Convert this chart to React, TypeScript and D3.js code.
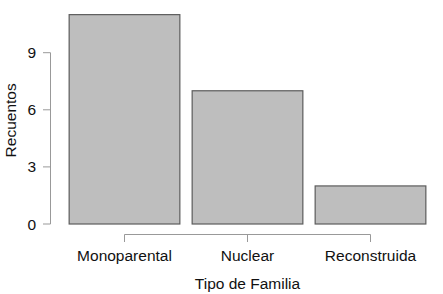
import React from "react";
import * as d3 from "d3";

const categories = ["Monoparental", "Nuclear", "Reconstruida"];
const counts = [11, 7, 2];
const yTicks = [0, 3, 6, 9];

export default function App() {
  const W = 443, H = 294;
  const x = d3.scaleBand<string>().domain(categories).range([63, 432]).paddingInner(0.1).paddingOuter(0.05);
  const y = d3.scaleLinear().domain([0, 9]).range([224, 52.7]);
  const font = "'Liberation Sans', Arial, sans-serif";
  const fs = 15.5;
  const c0 = x(categories[0])! + x.bandwidth() / 2;
  const c2 = x(categories[2])! + x.bandwidth() / 2;
  return (
    <svg width={W} height={H} style={{ position: "absolute", left: 0, top: 0 }} fontFamily={font}>
      <rect width={W} height={H} fill="#fff" />
      {categories.map((c, i) => (
        <rect key={c} x={x(c)!} y={y(counts[i])} width={x.bandwidth()} height={y(0) - y(counts[i])}
          fill="#bebebe" stroke="#5c5c5c" strokeWidth={1.2} />
      ))}
      <line x1={50.5} x2={50.5} y1={y(9)} y2={y(0)} stroke="#999" strokeWidth={1} />
      {yTicks.map(t => (
        <g key={t}>
          <line x1={43} x2={50.5} y1={y(t)} y2={y(t)} stroke="#999" />
          <text x={36} y={y(t)} dy="0.36em" textAnchor="end" fontSize={fs} fill="#111">{t}</text>
        </g>
      ))}
      <line x1={c0} x2={c2} y1={234.5} y2={234.5} stroke="#999" />
      {categories.map(c => {
        const cx = x(c)! + x.bandwidth() / 2;
        return (
          <g key={c}>
            <line x1={cx} x2={cx} y1={234.5} y2={242} stroke="#999" />
            <text x={cx} y={260.5} textAnchor="middle" fontSize={fs} fill="#111">{c}</text>
          </g>
        );
      })}
      <text x={247.5} y={288.5} textAnchor="middle" fontSize={fs} fill="#111">Tipo de Familia</text>
      <text transform={`translate(16,${(y(0) + y(9)) / 2 - 18}) rotate(-90)`} textAnchor="middle" fontSize={fs} fill="#111">Recuentos</text>
    </svg>
  );
}
